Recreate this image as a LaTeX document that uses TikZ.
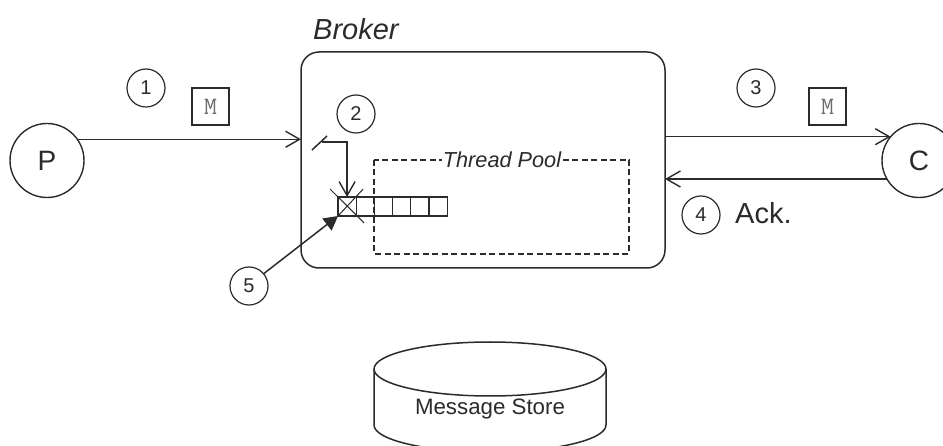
\documentclass[tikz,border=0pt]{standalone}
\usepackage{fontspec}
\setmainfont{Liberation Sans}
\usetikzlibrary{arrows.meta,calc}
\definecolor{ink}{gray}{0.17}
\newcommand{\fpx}[1]{\fontsize{#1pt}{#1pt}\selectfont}
\tikzset{
  every node/.style={text=ink},
  line/.style={draw=ink,line width=1.5pt},
  flow/.style={line,-{Straight Barb[length=14pt,width=16pt,line width=1.4pt]}},
  actor/.style={circle,draw=ink,line width=1.4pt,minimum size=74pt,inner sep=0pt,outer sep=0pt,font=\fpx{28}},
  num/.style={circle,draw=ink,line width=1.2pt,minimum size=38pt,inner sep=0pt,outer sep=0pt,font=\fpx{20}},
  msg/.style={rectangle,draw=ink,fill=white,line width=1.3pt,minimum size=37pt,inner sep=0pt,text=ink!70,font=\ttfamily\fpx{25}},
  cell/.style={rectangle,draw=ink,line width=1.3pt,minimum width=18.2pt,minimum height=19pt,inner sep=0pt,outer sep=0pt},
}
\begin{document}
\begin{tikzpicture}[x=1pt,y=-1pt]
\useasboundingbox (0,0) rectangle (943,446);
\clip (0,0) rectangle (943,446);
% broker
\node[rectangle,draw=ink,line width=1.5pt,rounded corners=18pt,minimum width=364pt,minimum height=216pt,inner sep=0pt,outer sep=0pt] (broker) at (483,160) {};
\node[font=\fpx{29}\itshape,anchor=base west,inner sep=0pt] (brokerlabel) at (313,40) {Broker};
% actors
\node[actor] (p) at (47,160.5) {P};
\node[actor] (c) at (919,160.5) {C};
% messages
\node[msg] (m1) at (210.5,106.5) {M};
\node[msg] (m2) at (827.5,106.5) {M};
% numbers
\node[num] (n1) at (146,88) {1};
\node[num] (n2) at (356,114) {2};
\node[num] (n3) at (756,88) {3};
\node[num] (n4) at (701,215) {4};
\node[num] (n5) at (249,286) {5};
\node[font=\fpx{29},anchor=base west,inner sep=0pt] (ack) at (735,224) {Ack.};
% thread pool
\coordinate (tpa) at (374,160);
\coordinate (tpb) at (629,254);
\draw[draw=ink,line width=1.4pt,dash pattern=on 6pt off 3.5pt] (tpa) rectangle (tpb);
\node[fill=white,font=\fpx{21.7}\itshape,inner xsep=1pt,inner ysep=1pt] (tp) at (502,160) {Thread Pool};
% queue
\node[cell] (q1) at (347.1,206.5) {};
\node[cell,anchor=west] (q2) at (q1.east) {};
\node[cell,anchor=west] (q3) at (q2.east) {};
\node[cell,anchor=west] (q4) at (q3.east) {};
\node[cell,anchor=west] (q5) at (q4.east) {};
\node[cell,anchor=west] (q6) at (q5.east) {};
\draw[line,line width=1pt] ($(q1.north west)+(-8,-8)$) -- ($(q1.south east)+(8,7)$);
\draw[line,line width=1pt] ($(q1.north east)+(7,-8)$) -- (q1.south west);
% connectors
\draw[flow] (p.35.5) -- (p.35.5 -| broker.west);
\draw[flow] (c.140.6 -| broker.east) -- (c.140.6);
\draw[flow] (c.210) -- (c.210 -| broker.east);
\coordinate (sa) at (312,150);
\coordinate (sb) at (327,136);
\coordinate (sm) at (322,142);
\draw[line] (sa) -- (sb);
\draw[flow] (sm) -| (q1.north);
\draw[line,-{Triangle[length=14pt,width=15pt]},fill=ink] (n5.40) -- (q1.south west);
% store
\draw[line] (374,369) arc[start angle=180,end angle=0,x radius=116,y radius=27]
  arc[start angle=0,end angle=-180,x radius=116,y radius=27];
\draw[line] (374,369) -- (374,425) arc[start angle=180,end angle=360,x radius=116,y radius=-27] -- (606,369);
\node[font=\fpx{22.3},inner sep=0pt] (store) at (490,409.5) {Message Store};
\end{tikzpicture}
\end{document}
